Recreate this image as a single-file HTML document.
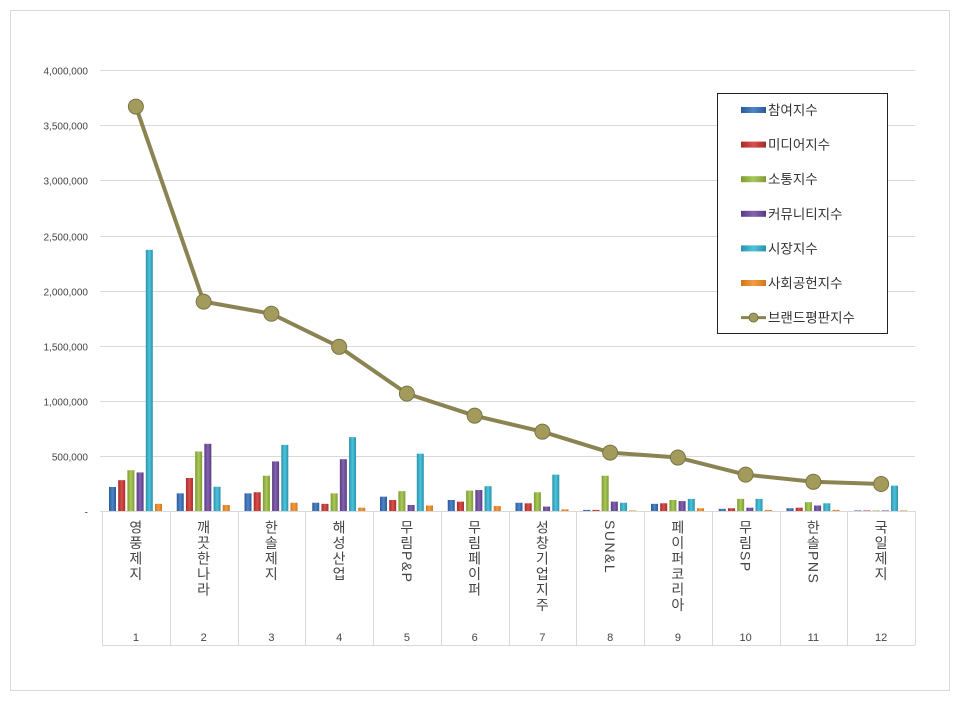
<!DOCTYPE html>
<html><head><meta charset="utf-8"><style>
body{margin:0;background:#fff;}
svg text{font-family:"Liberation Sans","Noto Sans CJK KR",sans-serif;}
</style></head><body>
<svg width="960" height="700" xmlns="http://www.w3.org/2000/svg">
<defs>
<linearGradient id="gb" x1="0" x2="1"><stop offset="0" stop-color="#2a5a9a"/><stop offset=".5" stop-color="#4f86c6"/><stop offset="1" stop-color="#2a5a9a"/></linearGradient>
<linearGradient id="gr" x1="0" x2="1"><stop offset="0" stop-color="#a52a28"/><stop offset=".5" stop-color="#d9504c"/><stop offset="1" stop-color="#a52a28"/></linearGradient>
<linearGradient id="gg" x1="0" x2="1"><stop offset="0" stop-color="#7f9a32"/><stop offset=".5" stop-color="#a9c95a"/><stop offset="1" stop-color="#7f9a32"/></linearGradient>
<linearGradient id="gp" x1="0" x2="1"><stop offset="0" stop-color="#5a3a85"/><stop offset=".5" stop-color="#8464ad"/><stop offset="1" stop-color="#5a3a85"/></linearGradient>
<linearGradient id="gc" x1="0" x2="1"><stop offset="0" stop-color="#2a92aa"/><stop offset=".5" stop-color="#4cc4dc"/><stop offset="1" stop-color="#2a92aa"/></linearGradient>
<linearGradient id="go" x1="0" x2="1"><stop offset="0" stop-color="#d0761e"/><stop offset=".5" stop-color="#f59b40"/><stop offset="1" stop-color="#d0761e"/></linearGradient>
</defs>
<rect x="10.5" y="10.5" width="939" height="680" fill="#fff" stroke="#d9d9d9"/>
<g id="grid" stroke="#d9d9d9" stroke-width="1"></g>
<g id="yl" font-size="10" fill="#444" text-anchor="end"></g>
<g id="bars"></g>
<g id="tbl" stroke="#d9d9d9"></g>
<g id="cl" font-size="14" fill="#444"></g>
<g id="line"></g>
<rect x="717.5" y="93.5" width="170" height="240" fill="#fff" stroke="#222"/>
<g id="leg" font-size="13.5" fill="#333"></g>
</svg>
<script>
const ns="http://www.w3.org/2000/svg";
function el(p,t,a,txt){const e=document.createElementNS(ns,t);for(const k in a)e.setAttribute(k,a[k]);if(txt!=null)e.textContent=txt;document.getElementById(p).appendChild(e);return e;}
const y0=511,sc=55.1/500000,x0=102,cw=67.75;
const Y=v=>y0-v*sc;
for(let i=0;i<=8;i++){const v=i*500000,y=Math.round(Y(v))+.5;
 if(i>0)el('grid','line',{x1:100,x2:915,y1:y,y2:y});
 el('yl','text',{x:88,y:y+4},i==0?'-':v.toLocaleString('en-US'));}
el('grid','line',{x1:100,x2:915,y1:511.5,y2:511.5});
const data=[[218,280,370,350,2370,65],[160,300,540,610,220,55],[160,170,320,450,600,75],[75,65,160,470,670,30],[130,100,180,55,520,50],[100,85,185,190,225,45],[75,70,170,40,330,15],[10,10,320,85,75,5],[65,70,100,90,110,25],[20,25,110,30,110,10],[25,30,80,50,70,10],[5,5,5,5,230,5]];
const g=['gb','gr','gg','gp','gc','go'];
data.forEach((d,i)=>{d.forEach((v,j)=>{const x=x0+i*cw+7+j*9.2,h=v*1000*sc;el('bars','rect',{x:x,y:y0-h,width:7,height:h,fill:'url(#'+g[j]+')'});});});
for(let i=0;i<=12;i++){const x=Math.round(x0+i*cw)+.5;el('tbl','line',{x1:x,x2:x,y1:511,y2:645});}
el('tbl','line',{x1:102,x2:915,y1:645.5,y2:645.5});
const names=['영풍제지','깨끗한나라','한솔제지','해성산업','무림P&P','무림페이퍼','성창기업지주','SUN&L','페이퍼코리아','무림SP','한솔PNS','국일제지'];
names.forEach((n,i)=>{const cx=x0+i*cw+cw/2;
 el('cl','text',{x:cx,y:520,'style':'writing-mode:vertical-rl;text-orientation:mixed;letter-spacing:1.5px','dominant-baseline':'central'},n);
 el('cl','text',{x:cx,y:641,'text-anchor':'middle','font-size':'11'},String(i+1));});
const lv=[3670,1900,1790,1490,1065,865,720,530,485,330,265,245];
const pts=lv.map((v,i)=>[x0+i*cw+cw/2,Y(v*1000)]);
el('line','polyline',{points:pts.map(p=>p.join(',')).join(' '),fill:'none',stroke:'#8b8452',"stroke-width":4,"stroke-linejoin":'round'});
pts.forEach(p=>el('line','circle',{cx:p[0],cy:p[1],r:7.5,fill:'#a39b5c',stroke:'#7a7345',"stroke-width":1}));
const ln=['참여지수','미디어지수','소통지수','커뮤니티지수','시장지수','사회공헌지수','브랜드평판지수'];
ln.forEach((n,i)=>{const y=110+i*34.6;
 if(i<6)el('leg','rect',{x:741,y:y-3,width:25,height:6,fill:'url(#'+g[i]+')'});
 else{el('leg','line',{x1:741,x2:766,y1:y,y2:y,stroke:'#8b8452','stroke-width':3});el('leg','circle',{cx:753.5,cy:y,r:4.5,fill:'#a39b5c',stroke:'#7a7345'});}
 el('leg','text',{x:768,y:y+5},n);});
</script>
</body></html>
